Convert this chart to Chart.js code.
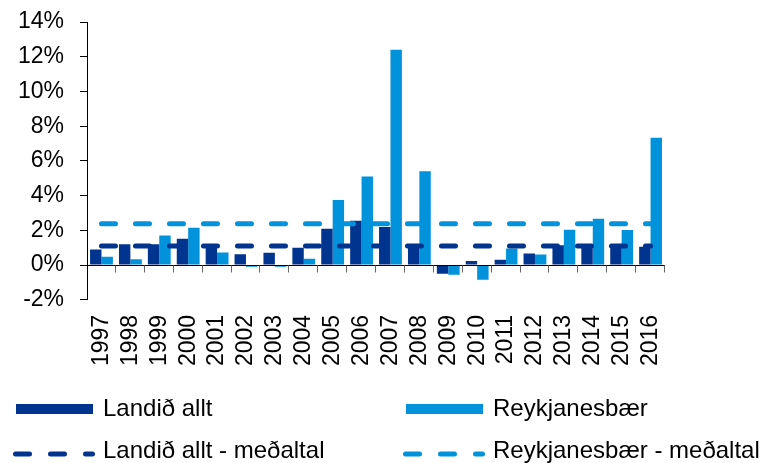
<!DOCTYPE html>
<html>
<head>
<meta charset="utf-8">
<script src="https://cdn.jsdelivr.net/npm/chart.js@4"></script>
<style>
  html, body { margin: 0; padding: 0; background: #fff; }
  #wrap { position: relative; width: 771px; height: 463px; overflow: hidden; }
  #chart { position: absolute; left: 0; top: 0; }
  .lg-swatch { position: absolute; }
  .lg-text { position: absolute; font-family: "Liberation Sans", Arial, sans-serif; font-size: 24px; line-height: 24px; color: #000; white-space: nowrap; }
</style>
</head>
<body>
<div id="wrap">
  <canvas id="chart" width="771" height="463"></canvas>
  <div id="legend"></div>
</div>
<script>
// Árleg breyting, 1997-2016
const years = ['1997', '1998', '1999', '2000', '2001', '2002', '2003', '2004', '2005', '2006',
               '2007', '2008', '2009', '2010', '2011', '2012', '2013', '2014', '2015', '2016'];
const landid = [0.9, 1.2, 1.2, 1.52, 1.15, 0.63, 0.71, 1.0, 2.1, 2.55,
                2.2, 1.0, -0.5, 0.23, 0.31, 0.67, 1.15, 1.1, 1.15, 1.05];
const reykjanes = [0.48, 0.33, 1.71, 2.15, 0.73, -0.1, -0.1, 0.37, 3.75, 5.1,
                   12.4, 5.4, -0.55, -0.85, 0.96, 0.61, 2.04, 2.67, 2.02, 7.34];
const landidMedal = [1.1, 1.1, 1.1, 1.1, 1.1, 1.1, 1.1, 1.1, 1.1, 1.1,
                     1.1, 1.1, 1.1, 1.1, 1.1, 1.1, 1.1, 1.1, 1.1, 1.1];
const reykjanesMedal = [2.38, 2.38, 2.38, 2.38, 2.38, 2.38, 2.38, 2.38, 2.38, 2.38,
                        2.38, 2.38, 2.38, 2.38, 2.38, 2.38, 2.38, 2.38, 2.38, 2.38];
const yTicks = [-2, 0, 2, 4, 6, 8, 10, 12, 14];

const DARK = '#00348f';
const LIGHT = '#0093db';
const FONT = '"Liberation Sans", Arial, sans-serif';

// x-ás á 0% með strikum milli flokka
const zeroAxis = {
  id: 'zeroAxis',
  afterDatasetsDraw(chart) {
    const { ctx, chartArea, scales } = chart;
    const n = chart.data.labels.length;
    const y0 = Math.round(scales.y.getPixelForValue(0)) + 0.5;
    const step = (chartArea.right - chartArea.left) / n;
    ctx.save();
    ctx.strokeStyle = '#000';
    ctx.lineWidth = 1;
    ctx.beginPath();
    ctx.moveTo(chartArea.left, y0);
    ctx.lineTo(chartArea.right, y0);
    ctx.stroke();
    ctx.strokeStyle = '#666';
    ctx.beginPath();
    for (let i = 1; i <= n; i++) {
      const px = Math.round(chartArea.left + i * step) - 0.5;
      ctx.moveTo(px, y0);
      ctx.lineTo(px, y0 + 7);
    }
    ctx.stroke();
    ctx.restore();
  }
};

const dashed = (label, data, color) => ({
  type: 'line', label, data, order: 0,
  borderColor: color, borderWidth: 5, borderDash: [14, 20], borderCapStyle: 'round',
  pointRadius: 0, fill: false, tension: 0
});

new Chart(document.getElementById('chart'), {
  type: 'bar',
  data: {
    labels: years,
    datasets: [
      dashed('Landið allt - meðaltal', landidMedal, DARK),
      dashed('Reykjanesbær - meðaltal', reykjanesMedal, LIGHT),
      { label: 'Landið allt', data: landid, backgroundColor: DARK, order: 1,
        categoryPercentage: 0.79, barPercentage: 1 },
      { label: 'Reykjanesbær', data: reykjanes, backgroundColor: LIGHT, order: 1,
        categoryPercentage: 0.79, barPercentage: 1 }
    ]
  },
  options: {
    responsive: false,
    devicePixelRatio: 1,
    animation: false,
    layout: { padding: { left: 2, right: 106, top: 22, bottom: 82 } },
    plugins: { legend: { display: false }, tooltip: { enabled: false } },
    scales: {
      x: {
        grid: { display: false, drawTicks: false },
        border: { display: false },
        ticks: { autoSkip: false, minRotation: 90, maxRotation: 90, padding: 15,
                 color: '#000', font: { family: FONT, size: 23 } }
      },
      y: {
        min: -2, max: 14,
        afterBuildTicks: axis => { axis.ticks = yTicks.map(v => ({ value: v })); },
        // tick padding á ekki að ýta teiknisvæðinu niður
        afterFit: axis => { axis.paddingTop = 14; axis.paddingBottom = 14; },
        grid: { drawOnChartArea: false, drawTicks: true, tickLength: 7, color: '#000' },
        border: { display: true, color: '#000', width: 1 },
        ticks: { padding: 16, color: '#000', font: { family: FONT, size: 23 },
                 callback: v => v + '%' }
      }
    }
  },
  plugins: [zeroAxis]
});

// Skýringar
const legendItems = [
  { text: 'Landið allt', color: DARK, kind: 'bar', x: 16, y: 396 },
  { text: 'Reykjanesbær', color: LIGHT, kind: 'bar', x: 406, y: 396 },
  { text: 'Landið allt - meðaltal', color: DARK, kind: 'dash', x: 13, y: 438 },
  { text: 'Reykjanesbær - meðaltal', color: LIGHT, kind: 'dash', x: 403, y: 438 }
];
const legend = document.getElementById('legend');
legendItems.forEach(it => {
  const sw = it.kind === 'bar'
    ? `<svg class="lg-swatch" style="left:${it.x}px;top:${it.y + 8}px" width="77" height="10"><rect x="0" y="0" width="77" height="10" fill="${it.color}"/></svg>`
    : `<svg class="lg-swatch" style="left:${it.x}px;top:${it.y + 11}px" width="82" height="10"><line x1="2.5" y1="5" x2="79.5" y2="5" stroke="${it.color}" stroke-width="5" stroke-linecap="round" stroke-dasharray="14 21"/></svg>`;
  legend.insertAdjacentHTML('beforeend', sw +
    `<div class="lg-text" style="left:${it.kind === 'bar' ? it.x + 87 : it.x + 90}px;top:${it.y}px">${it.text}</div>`);
});
</script>
</body>
</html>
